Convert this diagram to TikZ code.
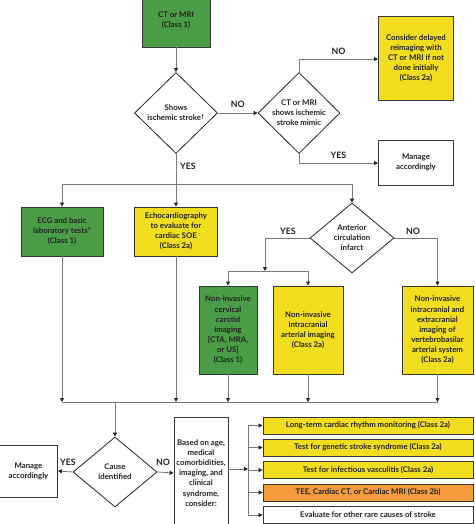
\documentclass[tikz,border=0pt]{standalone}
\usepackage{fontspec}
\setmainfont{Lato}
\usetikzlibrary{shapes.geometric,arrows.meta}
\definecolor{cgreen}{HTML}{4A9D46}
\definecolor{cyellow}{HTML}{F2DD1E}
\definecolor{corange}{HTML}{F49B3C}
\definecolor{cborder}{HTML}{383838}
\definecolor{cline}{HTML}{7A7A7A}
\definecolor{ctext}{HTML}{222222}
\begin{document}
\begin{tikzpicture}[x=1pt,y=-1pt,
  font=\fontsize{7.8}{10.1}\selectfont\bfseries,
  box/.style={draw=cborder, line width=0.9pt, align=center, inner sep=1pt, text=ctext},
  dia/.style={diamond, draw=black!85, line width=0.8pt, align=center, inner sep=0pt, aspect=1, text=ctext},
  conn/.style={draw=cline, line width=0.8pt},
  arr/.style={conn, -{Triangle[length=4pt,width=4pt,color=black!85]}},
  lbl/.style={font=\fontsize{8.8}{9}\selectfont\bfseries, text=ctext, inner sep=0pt}]
\useasboundingbox[fill=white] (0,0) rectangle (474,524);

% top
\node[box, fill=cgreen, minimum width=68pt, minimum height=54pt] (ct) at (176,20) {CT or MRI\\(Class 1)};
\node[dia, minimum width=83pt, minimum height=81pt] (d1) at (176,113) {Shows\\ischemic stroke\textsuperscript{†}};
\node[dia, minimum width=82pt, minimum height=81pt] (d2) at (299,113) {CT or MRI\\shows ischemic\\stroke mimic};
\node[box, fill=cyellow, minimum width=75pt, minimum height=84pt] (delay) at (416,58) {Consider delayed\\reimaging with\\CT or MRI if not\\done initially\\(Class 2a)};
\node[box, fill=white, minimum width=75pt, minimum height=45pt] (man1) at (416,162.5) {Manage\\accordingly};

% middle
\node[box, fill=cgreen, minimum width=82pt, minimum height=49pt] (ecg) at (62,231.5) {ECG and basic\\laboratory tests*\\(Class 1)};
\node[box, fill=cyellow, minimum width=83pt, minimum height=49pt] (echo) at (176,231.5) {Echocardiography\\to evaluate for\\cardiac SOE\\(Class 2a)};
\node[dia, minimum width=84pt, minimum height=70pt] (d3) at (352,238) {Anterior\\circulation\\infarct};
\node[box, fill=cgreen, minimum width=58pt, minimum height=88pt] (cerv) at (228,330) {Non-invasive\\cervical\\carotid\\imaging\\{[CTA, MRA,}\\or US]\\(Class 1)};
\node[box, fill=cyellow, minimum width=70pt, minimum height=88pt] (intra) at (308,330) {Non-invasive\\intracranial\\arterial imaging\\(Class 2a)};
\node[box, fill=cyellow, minimum width=71pt, minimum height=88pt] (vert) at (437.5,330) {Non-invasive\\intracranial and\\extracranial\\imaging of\\vertebrobasilar\\arterial system\\(Class 2a)};

% bottom
\node[dia, minimum width=84pt, minimum height=70pt] (d4) at (115,472) {Cause\\identified};
\node[box, fill=white, minimum width=58pt, minimum height=52pt] (man2) at (28.5,471) {Manage\\accordingly};
\node[box, fill=white, minimum width=54pt, minimum height=112pt] (based) at (201,473) {Based on age,\\medical\\comorbidities,\\imaging, and\\clinical\\syndrome,\\consider:};
\node[box, fill=cyellow, minimum width=210pt, minimum height=17pt] (t1) at (368,425.5) {Long-term cardiac rhythm monitoring (Class 2a)};
\node[box, fill=cyellow, minimum width=210pt, minimum height=17pt] (t2) at (368,447.5) {Test for genetic stroke syndrome (Class 2a)};
\node[box, fill=cyellow, minimum width=210pt, minimum height=17pt] (t3) at (368,470) {Test for infectious vasculitis (Class 2a)};
\node[box, fill=corange, minimum width=210pt, minimum height=17pt] (t4) at (368,492.5) {TEE, Cardiac CT, or Cardiac MRI (Class 2b)};
\node[box, fill=white, minimum width=210pt, minimum height=17pt] (t5) at (368,515) {Evaluate for other rare causes of stroke};

% coordinates
\coordinate (b1) at (176,184);
\coordinate (split) at (265,271);
\coordinate (bar) at (115,402);
\coordinate (fork) at (248,469);

% connectors top
\draw[arr] (ct.south) -- (d1.north);
\draw[arr] (d1.east) -- node[lbl, above=5pt] {NO} (d2.west);
\draw[arr] (d2.north) |- node[lbl, pos=0.75, above=4pt] {NO} (delay.west |- 0,59);
\draw[arr] (d2.south) |- node[lbl, pos=0.75, above=4pt] {YES} (man1.west |- 0,163);
\draw[arr] (d1.south) -- (echo.north);
\node[lbl] (yes1) at (188,166) {YES};
\draw[arr] (b1) -| (ecg.north);
\draw[arr] (b1) -| (d3.north);

% anterior circulation
\draw[arr] (d3.west) -| (split);
\node[lbl] (yes2) at (288,231) {YES};
\draw[arr] (split) -| (cerv.north);
\draw[arr] (split) -| (intra.north);
\draw[arr] (d3.east) -| (vert.north);
\node[lbl] (no3) at (413,231) {NO};

% collecting bar
\draw[conn] (ecg.south |- bar) -- (vert.south |- bar);
\draw[arr] (ecg.south) -- (ecg.south |- bar);
\draw[arr] (echo.south) -- (echo.south |- bar);
\draw[arr] (cerv.south) -- (cerv.south |- bar);
\draw[arr] (intra.south) -- (intra.south |- bar);
\draw[arr] (vert.south) -- (vert.south |- bar);
\draw[arr] (bar) -- (d4.north);

% bottom
\draw[arr] (d4.west) -- (man2.east);
\node[lbl] (yes3) at (68,462) {YES};
\draw[arr] (d4.east) -- (based.west);
\node[lbl] (no4) at (163,462) {NO};
\draw[arr] (based.east |- fork) -- (fork);
\draw[conn] (fork |- t1.west) -- (fork |- t5.west);
\foreach \t in {t1,t2,t3,t4,t5} {\draw[arr] (fork |- \t.west) -- (\t.west);}
\end{tikzpicture}
\end{document}
